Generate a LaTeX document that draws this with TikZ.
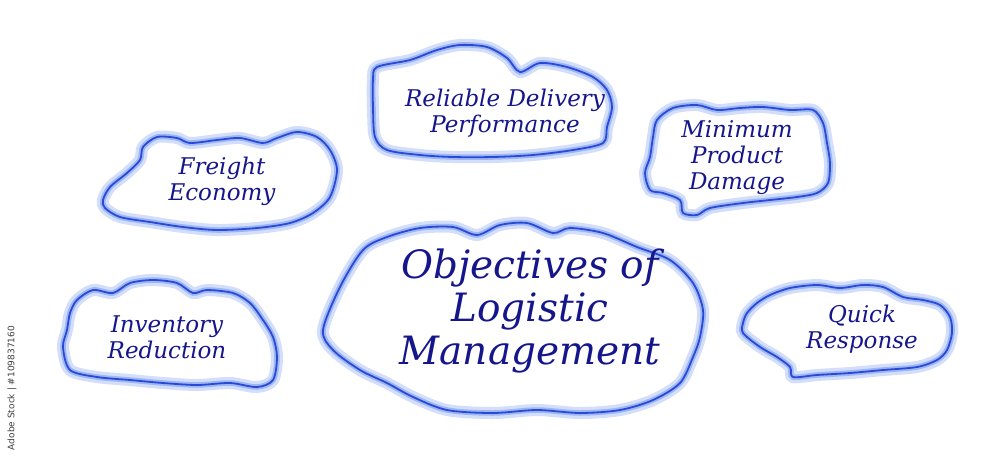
\documentclass[tikz,border=0pt]{standalone}
\usepackage{fontspec}
\setmainfont{DejaVu Serif}
\newfontfamily\stockfont{DejaVu Sans}
\usepackage{xcolor}
\usepackage{tikz}

\definecolor{edgeblue}{RGB}{40,75,215}
\definecolor{glowblue}{RGB}{210,222,250}
\definecolor{glowmid}{RGB}{160,182,242}
\definecolor{inkblue}{RGB}{22,22,140}

\begin{document}
\begin{tikzpicture}[x=1pt,y=-1pt,
	blob/.style={preaction={fill=white},
		preaction={draw=glowblue,line width=12},
		preaction={draw=glowmid,line width=5.5},
		draw=edgeblue,line width=1.8,line join=round},
	lbl/.style={text=inkblue,align=center,font=\itshape\fontsize{23}{26}\selectfont},
	biglbl/.style={text=inkblue,align=center,font=\itshape\fontsize{39}{43}\selectfont}]
	\useasboundingbox[fill=white] (0,0) rectangle (1000,456);
	% central cloud
	\draw[blob] plot[smooth cycle] coordinates {(323,330) (340,287) (363,250) (387,237) (420,228) (453,227) (477,235) (500,225) (527,223) (553,233) (570,228) (603,233) (637,247) (670,260) (693,283) (703,310) (700,337) (693,357) (680,383) (653,400) (620,410) (580,413) (537,410) (493,413) (447,410) (413,397) (387,383) (360,370) (333,350)};
	% reliable delivery
	\draw[blob] plot[smooth cycle] coordinates {(377,67) (410,60) (437,50) (460,45) (487,47) (507,58) (520,72) (540,63) (567,67) (593,77) (607,90) (612,107) (607,127) (603,143) (573,150) (533,155) (493,157) (453,157) (420,155) (387,150) (375,137) (373,107) (373,80)};
	% freight
	\draw[blob] plot[smooth cycle] coordinates {(103,200) (110,187) (127,173) (140,160) (143,147) (157,137) (177,138) (190,143) (217,140) (240,138) (263,143) (277,138) (297,132) (317,137) (330,150) (337,170) (330,197) (313,213) (290,223) (257,228) (217,230) (183,227) (150,222) (120,217) (105,208)};
	% minimum damage
	\draw[blob] plot[smooth cycle] coordinates {(657,120) (673,108) (697,105) (717,110) (740,108) (763,107) (790,110) (813,110) (823,123) (827,143) (830,163) (828,183) (817,193) (797,197) (770,200) (743,203) (710,208) (697,215) (683,213) (680,200) (663,193) (650,190) (645,173) (650,157) (653,137)};
	% inventory
	\draw[blob] plot[smooth cycle] coordinates {(63,347) (67,330) (70,313) (77,300) (93,290) (113,293) (130,283) (153,280) (177,283) (193,293) (207,290) (233,293) (250,303) (263,320) (273,337) (277,357) (273,380) (257,387) (230,383) (197,385) (163,383) (130,380) (97,377) (70,370)};
	% quick response
	\draw[blob] plot[smooth cycle] coordinates {(747,313) (757,303) (770,295) (790,288) (817,285) (840,288) (863,285) (883,287) (903,297) (923,300) (940,305) (950,317) (952,333) (947,350) (937,360) (917,367) (883,370) (850,373) (817,375) (793,377) (790,367) (777,357) (760,347) (743,333) (743,323)};

	\node[biglbl] (objectives) at (530,311) {Objectives of\\Logistic\\Management};
	\node[lbl] (delivery) at (505,113) {Reliable Delivery\\Performance};
	\node[lbl] (freight) at (222,181) {Freight\\Economy};
	\node[lbl] (damage) at (737,158) {Minimum\\Product\\Damage};
	\node[lbl] (inventory) at (167,337) {Inventory\\Reduction};
	\node[lbl] (quick) at (862,329) {Quick\\Response};

	\node[rotate=90,text=black!75,font=\stockfont\fontsize{9}{10}\selectfont] (stock) at (12,388) {Adobe Stock | \#109837160};
\end{tikzpicture}
\end{document}
